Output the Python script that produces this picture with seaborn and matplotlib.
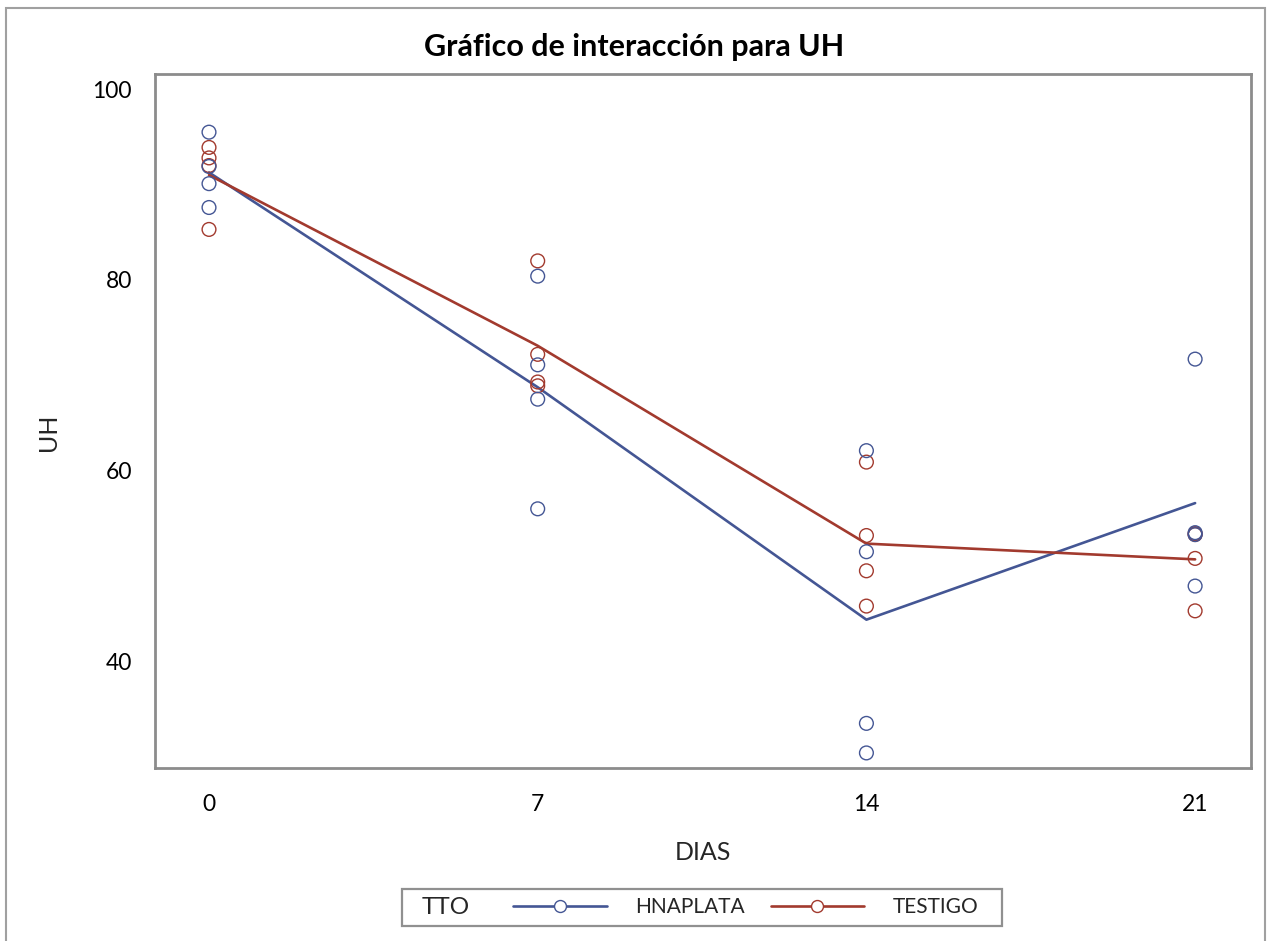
import matplotlib
matplotlib.use("Agg")
import matplotlib.pyplot as plt
from matplotlib.lines import Line2D
from matplotlib.patches import Rectangle
import seaborn as sns
import pandas as pd

# ---- data ----
groups = ["HNAPLATA", "TESTIGO"]
days = [0, 7, 14, 21]
hnaplata_uh = [
    [95.5, 91.9, 90.1, 87.6],   # day 0
    [80.4, 71.1, 67.5, 56.0],   # day 7
    [62.1, 51.5, 33.5, 30.4],   # day 14
    [71.7, 53.5, 53.3, 47.9],   # day 21
]
testigo_uh = [
    [93.9, 92.8, 92.0, 85.3],
    [82.0, 72.2, 69.3, 68.9],
    [60.9, 53.2, 49.5, 45.8],
    [53.4, 53.3, 50.8, 45.3],
]
colors = {"HNAPLATA": "#445694", "TESTIGO": "#A23A2E"}

rows = []
for g, vals in zip(groups, [hnaplata_uh, testigo_uh]):
    for d, vs in zip(days, vals):
        for v in vs:
            rows.append({"DIAS": d, "UH": v, "TTO": g})
df = pd.DataFrame(rows)

# ---- style ----
sns.set_style("white")
plt.rcParams["font.family"] = ["Lato", "DejaVu Sans"]

W, H = 1271, 941
fig = plt.figure(figsize=(W / 100, H / 100), dpi=100)
ax = fig.add_axes([155 / W, 1 - 768 / H, (1251 - 155) / W, (768 - 74) / H])

grey = "#8c8c8c"

sns.lineplot(data=df, x="DIAS", y="UH", hue="TTO", hue_order=groups,
             palette=colors, estimator="mean", errorbar=None,
             lw=1.9, legend=False, ax=ax)
for g in groups[::-1]:
    sub = df[df["TTO"] == g]
    sns.scatterplot(data=sub, x="DIAS", y="UH", color=colors[g],
                    facecolors="none", edgecolor=colors[g], s=98,
                    linewidth=1.0, marker="o", legend=False, ax=ax, zorder=3)

ax.set_xlim(-1.15, 22.19)
ax.set_ylim(28.82, 101.6)
ax.set_xticks(days)
ax.set_xticklabels([str(d) for d in days])
ax.set_yticks([40, 60, 80, 100])

for s in ax.spines.values():
    s.set_visible(True)
    s.set_color(grey)
    s.set_linewidth(2.0)

ax.tick_params(axis="both", which="major", direction="out", length=7.5,
               width=1.6, color=grey, labelsize=16.5, labelcolor="black")
ax.tick_params(axis="x", pad=11)
ax.tick_params(axis="y", pad=9)

ax.set_xlabel("DIAS", fontsize=18)
ax.set_ylabel("UH", fontsize=18)
ax.xaxis.set_label_coords(0.5, (768 - 853) / 694)
ax.xaxis.label.set_va("center")
ax.yaxis.set_label_coords((48 - 155) / 1096, (768 - 432) / 694)
ax.yaxis.label.set_va("center")

fig.text(634 / W, 1 - 47 / H, "Gráfico de interacción para UH",
         ha="center", va="center", fontsize=22, fontweight="bold",
         color="black")

# ---- legend ----
handles = [Line2D([], [], color=colors[g], lw=1.9, marker="o", markersize=8.6,
                  markerfacecolor="white", markeredgecolor=colors[g],
                  markeredgewidth=1.0) for g in groups]
fig.legend(handles=handles, labels=groups, ncol=2, loc="center left",
           bbox_to_anchor=(513 / W, 1 - 907 / H), frameon=False, fontsize=15,
           handlelength=4.5, handletextpad=1.35, columnspacing=1.25,
           borderpad=0, borderaxespad=0)
fig.text(446 / W, 1 - 908 / H, "TTO", ha="center", va="center", fontsize=17.5)
fig.patches.append(Rectangle((402 / W, 1 - 926 / H), 600 / W, 37 / H,
                             transform=fig.transFigure, fill=False,
                             ec="#909090", lw=1.6))
# outer border
fig.patches.append(Rectangle((6 / W, -0.01), (1265 - 6) / W, 1.01 - 8 / H,
                             transform=fig.transFigure, fill=False,
                             ec="#a0a0a0", lw=1.5))

fig.savefig("out.png", dpi=100)
